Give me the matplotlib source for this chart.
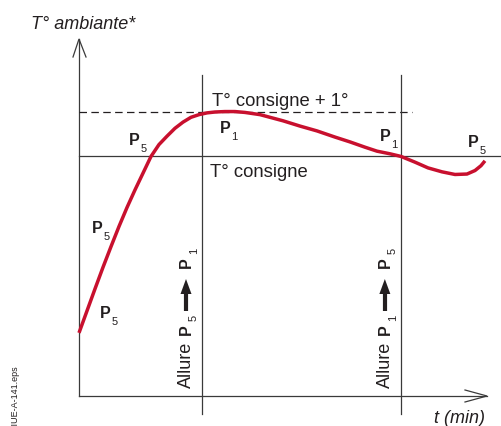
import matplotlib

matplotlib.use("Agg")
import matplotlib.pyplot as plt
from matplotlib.patches import Polygon

plt.rcParams["font.family"] = ["Liberation Sans", "DejaVu Sans"]

# room temperature curve (t in min, T in °C, consigne = 20)
t_curve = [0.000, 0.195, 0.390, 0.585, 0.780, 0.976, 1.171, 1.366, 1.561, 1.756,
           1.951, 2.146, 2.341, 2.537, 2.732, 2.927, 3.122, 3.317, 3.561, 3.805,
           4.049, 4.415, 4.976, 5.390, 5.805, 6.244, 6.610, 6.976, 7.268, 7.585,
           7.854, 8.195, 8.512, 8.854, 9.171, 9.463, 9.659, 9.805, 9.902]
T_curve = [15.98, 16.48, 16.98, 17.47, 17.94, 18.40, 18.83, 19.23, 19.61, 19.99,
           20.26, 20.45, 20.63, 20.77, 20.88, 20.94, 20.98, 21.00, 21.01, 21.01,
           20.99, 20.94, 20.80, 20.68, 20.57, 20.43, 20.32, 20.20, 20.11, 20.05,
           19.99, 19.86, 19.73, 19.64, 19.58, 19.59, 19.67, 19.78, 19.89]

T_consigne = 20.0
T_consigne_plus = 21.0
t_switch = [3.0, 7.85]
switch_subs = [("5", "1"), ("1", "5")]  # Allure P_a -> P_b
p_subs = ["5", "1", "1", "5", "5", "5"]

W, H = 501, 427
X0, Y0 = 79, 157          # pixel of t=0 and of T=consigne
SX, SY = 41.0, 44.0       # px per minute, px per degree
INK = "#231f20"
LINE = "#3a3a3a"
RED = "#c8102e"


def d(x, y):
    """pixel -> data"""
    return (x - X0) / SX, T_consigne - (y - Y0) / SY


def f(x, y):
    """pixel -> figure fraction"""
    return x / W, 1 - y / H


fig = plt.figure(figsize=(W / 100, H / 100), dpi=100)
ax = fig.add_axes([0, 0, 1, 1])
ax.set_xlim(d(0, 0)[0], d(W, 0)[0])
ax.set_ylim(d(0, H)[1], d(0, 0)[1])
ax.axis("off")

lw = 0.9
# axes with open arrowheads
t_end, T_bot = d(487, 397)
_, T_top = d(79, 40)
ax.plot([0, 0], [T_bot, T_top], color=LINE, lw=lw)
ax.plot([0, t_end], [T_bot, T_bot], color=LINE, lw=lw)
for pts in ([(73, 58), (79, 40), (86, 58)], [(465, 391), (487, 397), (465, 403)]):
    xs, ys = zip(*[d(*p) for p in pts])
    ax.plot(xs, ys, color=LINE, lw=lw, solid_joinstyle="miter")

# consigne lines
ax.plot([0, d(500, 0)[0]], [T_consigne, T_consigne], color=LINE, lw=lw)
ax.plot([0, d(412, 0)[0]], [T_consigne_plus, T_consigne_plus], color=INK, lw=lw,
        linestyle=(0, (6, 3.5)))

# switching instants
for ts in t_switch:
    ax.plot([ts, ts], [d(0, 415)[1], d(0, 76)[1]], color=LINE, lw=lw)

ax.plot(t_curve, T_curve, color=RED, lw=2.5, solid_capstyle="butt", solid_joinstyle="round")

# texts
fig.text(*f(31, 29), "T° ambiante*", style="italic", size=13, color=INK, va="baseline")
fig.text(*f(434, 423), "t (min)", style="italic", size=13, color=INK, va="baseline")
fig.text(*f(212, 106), "T° consigne + 1°", size=13.3, color=INK, va="baseline")
fig.text(*f(210, 177), "T° consigne", size=13.3, color=INK, va="baseline")
fig.text(*f(15, 365), "IIUE-A-141.eps", size=6.5, color=INK, rotation=90,
         rotation_mode="anchor", ha="right", va="center")

p_pos = [(129, 145), (220, 133), (380, 141), (468, 147), (92, 233), (100, 318)]
for (x, y), s in zip(p_pos, p_subs):
    fig.text(*f(x, y), "P", weight="bold", size=11.5, color=INK, va="baseline")
    fig.text(*f(x + 11.5, y + 7), s, size=8, color=INK, va="baseline")


def rot_label(xb, a, b):
    kw = dict(rotation=90, rotation_mode="anchor", ha="left", va="baseline", color=INK)
    fig.text(*f(xb, 388), "Allure", size=13, **kw)
    fig.text(*f(xb, 335), "P", weight="bold", size=11.5, **kw)
    fig.text(*f(xb + 6, 321), a, size=8, **kw)
    fig.text(*f(xb, 268), "P", weight="bold", size=11.5, **kw)
    fig.text(*f(xb + 6, 254), b, size=8, **kw)
    ax.plot(*zip(d(xb - 5, 312), d(xb - 5, 294)), color=INK, lw=3, solid_capstyle="butt")
    tri = [d(xb - 10.5, 295), d(xb + 0.5, 295), d(xb - 5, 280)]
    ax.add_patch(Polygon(tri, closed=True, color=INK, lw=0))


for ts, (a, b) in zip(t_switch, switch_subs):
    xb = X0 + ts * SX - 11
    rot_label(xb, a, b)

fig.savefig("out.png", dpi=100)
